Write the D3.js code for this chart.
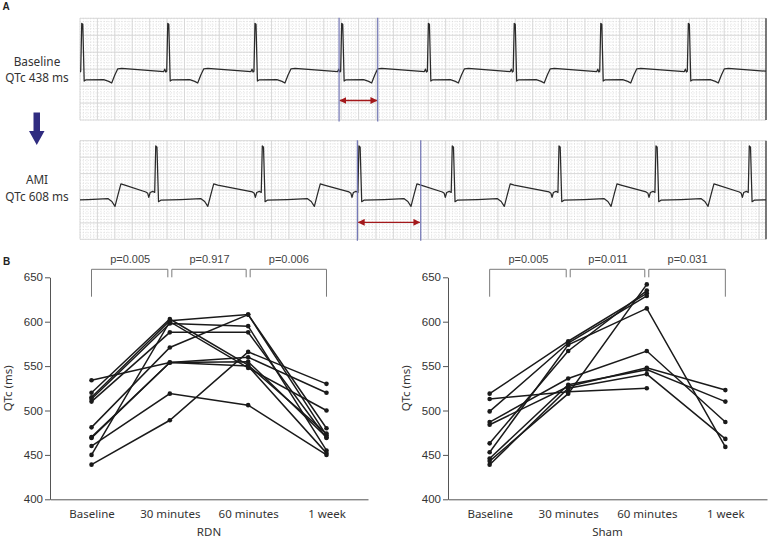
<!DOCTYPE html>
<html><head><meta charset="utf-8">
<script src="https://cdn.jsdelivr.net/npm/d3@7"></script>
<style>body{margin:0;background:#fff}svg{display:block}</style>
</head><body>
<svg id="c" width="768" height="539"></svg>
<script>
// ---------- Panel B data ----------
const categories = ["Baseline", "30 minutes", "60 minutes", "1 week"];
const yTicks = [400, 450, 500, 550, 600, 650];
const rdnSeries = [
  [534, 554, 560, 520],
  [520, 603, 551, 474],
  [515, 601, 608, 480],
  [513, 598, 595, 455],
  [510, 588, 588, 469],
  [481, 571, 608, 472],
  [470, 554, 555, 470],
  [469, 554, 550, 452],
  [460, 519, 506, 450],
  [450, 600, 548, 500],
  [439, 489, 566, 530]
];
const shamSeries = [
  [519, 578, 632, null],
  [513, 521, 525, null],
  [499, 576, 629, null],
  [487, 536, 567, 487],
  [484, 527, 548, 523],
  [463, 567, 635, null],
  [453, 574, 615, 459],
  [446, 529, 546, 510],
  [443, 519, 642, null],
  [439, 525, 541, 468]
];
const rdnPValues = ["p=0.005", "p=0.917", "p=0.006"];
const shamPValues = ["p=0.005", "p=0.011", "p=0.031"];

// ---------- Panel A data (ECG) ----------
const baselineRPeaksMs = [10, 504, 1005, 1503, 2001, 2494, 2991, 3494, 3990];
const amiRPeaksMs = [-98, 435, 1047, 1602, 2138, 2751, 3308, 3844];
// beat templates: [ms offset from R, mV]
const baselineBeat = [
  [-23, -0.14], [-17, 0.0], [-11, -0.17], [-6, -0.12], [0, 2.7], [6, 2.65], [14, -0.7],
  [23, -0.64], [126, -0.62], [155, -0.72], [172, -0.82], [190, -0.35], [207, 0.02], [230, 0.05]
];
const amiBeat = [
  [-57, -0.12], [-46, -0.2], [-40, -0.45], [-32, -0.15], [-17, -0.08], [-6, -0.15], [0, 2.68], [7, 2.6], [16, -0.71],
  [29, -0.62], [144, -0.58], [258, -0.52], [281, -0.7], [299, -1.0], [316, -0.3], [333, 0.37], [356, 0.3]
];
const baselineQT = [1488, 1710];
const amiQT = [1593, 1957];
const stripLabels = [["Baseline", "QTc 438 ms"], ["AMI", "QTc 608 ms"]];

const svg = d3.select("#c");
const sans = "'Noto Sans', sans-serif";
const arial = "'Liberation Sans', Arial, sans-serif";

// ---------- Panel A ----------
svg.append("text").attr("x", 2.5).attr("y", 10).text("A")
  .attr("font-family", arial).attr("font-weight", "bold").attr("font-size", 10).attr("fill", "#222");

const tx = d3.scaleLinear().domain([0, 3940]).range([80, 766]);
const strips = [
  {r: baselineRPeaksMs, beat: baselineBeat, qt: baselineQT, y: d3.scaleLinear().domain([-3, 3]).range([120, 18.3]), arrowY: -1.85, labels: stripLabels[0], ly: [66, 82]},
  {r: amiRPeaksMs, beat: amiBeat, qt: amiQT, y: d3.scaleLinear().domain([-3, 3]).range([239.3, 140.7]), arrowY: -1.97, labels: stripLabels[1], ly: [184, 200.5]}
];
const defs = svg.append("defs");
defs.append("marker").attr("id", "ah").attr("viewBox", "0 0 10 10").attr("refX", 9).attr("refY", 5)
  .attr("markerWidth", 5).attr("markerHeight", 5).attr("orient", "auto-start-reverse")
  .append("path").attr("d", "M0,0 L10,5 L0,10 z").attr("fill", "#a3181b");

strips.forEach((s, si) => {
  const y = s.y;
  const [x0, x1] = tx.range();
  const [yb, yt] = y.range();
  defs.append("clipPath").attr("id", "clip" + si).append("rect")
    .attr("x", x0).attr("y", yt - 1).attr("width", x1 - x0).attr("height", yb - yt + 2);
  const g = svg.append("g");
  // minor grid
  d3.range(0, 3941, 20).forEach(t => g.append("line").attr("x1", tx(t)).attr("x2", tx(t)).attr("y1", yt).attr("y2", yb)
    .attr("stroke", "#cfcfcf").attr("stroke-width", 0.6).attr("stroke-dasharray", "1,1.6"));
  d3.range(-3, 3.01, 0.2).forEach(v => g.append("line").attr("x1", x0).attr("x2", x1).attr("y1", y(v)).attr("y2", y(v))
    .attr("stroke", "#cfcfcf").attr("stroke-width", 0.6).attr("stroke-dasharray", "1,1.6"));
  // major grid
  d3.range(0, 3941, 100).forEach(t => g.append("line").attr("x1", tx(t)).attr("x2", tx(t)).attr("y1", yt).attr("y2", yb)
    .attr("stroke", "#d6d6d6").attr("stroke-width", 0.9));
  d3.range(-3, 3.01, 1).forEach(v => g.append("line").attr("x1", x0).attr("x2", x1).attr("y1", y(v)).attr("y2", y(v))
    .attr("stroke", "#d6d6d6").attr("stroke-width", 0.9));
  // right border
  g.append("line").attr("x1", x1).attr("x2", x1).attr("y1", yt).attr("y2", yb).attr("stroke", "#222").attr("stroke-width", 1.2);
  // trace
  const pts = [];
  s.r.forEach(r => s.beat.forEach(([dt, v]) => pts.push([r + dt, v])));
  pts.sort((a, b) => a[0] - b[0]);
  g.append("path").attr("clip-path", `url(#clip${si})`)
    .attr("d", d3.line().x(d => tx(d[0])).y(d => y(d[1]))(pts))
    .attr("fill", "none").attr("stroke", "#2a2a2a").attr("stroke-width", 1.25).attr("stroke-linejoin", "round");
  // QT markers
  s.qt.forEach(t => g.append("line").attr("x1", tx(t)).attr("x2", tx(t)).attr("y1", yt - 0.5).attr("y2", yb + 1.5)
    .attr("stroke", "#6f73b3").attr("stroke-width", 1.2));
  g.append("line").attr("x1", tx(s.qt[0]) + 1).attr("x2", tx(s.qt[1]) - 1).attr("y1", y(s.arrowY)).attr("y2", y(s.arrowY))
    .attr("stroke", "#a3181b").attr("stroke-width", 1.4)
    .attr("marker-start", "url(#ah)").attr("marker-end", "url(#ah)");
  // labels
  s.labels.forEach((t, i) => svg.append("text").attr("x", 37).attr("y", s.ly[i]).attr("text-anchor", "middle")
    .attr("font-family", sans).attr("font-size", 11.8).attr("fill", "#333").text(t));
});
// transition arrow
svg.append("path").attr("d", "M33.5,112.5 L40,112.5 L40,131 L44.5,131 L36.75,145 L29,131 L33.5,131 Z").attr("fill", "#302c80");

// ---------- Panel B ----------
svg.append("text").attr("x", 3).attr("y", 264.5).text("B")
  .attr("font-family", arial).attr("font-weight", "bold").attr("font-size", 10).attr("fill", "#222");

const y = d3.scaleLinear().domain([400, 650]).range([499.3, 277.3]);
const panels = [
  {series: rdnSeries, p: rdnPValues, range: [50, 368], title: "RDN", yLabelX: 8},
  {series: shamSeries, p: shamPValues, range: [448, 767], title: "Sham", yLabelX: 406}
];
panels.forEach(P => {
  const x = d3.scalePoint().domain(categories).range(P.range).padding(0.53);
  const g = svg.append("g");
  const ya = g.append("g").attr("transform", `translate(${P.range[0]},0)`)
    .call(d3.axisLeft(y).tickValues(yTicks).tickSize(5).tickSizeOuter(0).tickPadding(2));
  ya.selectAll("text").attr("font-family", arial).attr("font-size", 11.5).attr("fill", "#333");
  ya.selectAll("line,path").attr("stroke", "#555");
  const xa = g.append("g").attr("transform", `translate(0,${y(400)})`)
    .call(d3.axisBottom(x).tickSize(0).tickSizeOuter(0).tickPadding(10.5));
  xa.selectAll("text").attr("font-family", sans).attr("font-size", 11.5).attr("fill", "#333");
  xa.selectAll("path").attr("stroke", "#555");
  g.append("text").attr("x", (P.range[0] + P.range[1]) / 2).attr("y", 536).attr("text-anchor", "middle")
    .attr("font-family", sans).attr("font-size", 11.5).attr("fill", "#333").text(P.title);
  g.append("text").attr("transform", `translate(${P.yLabelX + 4},${(y(400) + y(650)) / 2}) rotate(-90)`)
    .attr("text-anchor", "middle").attr("font-family", sans).attr("font-size", 11.5).attr("fill", "#333").text("QTc (ms)");
  // lines
  const line = d3.line().defined(d => d.v != null).x(d => x(d.c)).y(d => y(d.v));
  P.series.forEach(s => {
    const d = s.map((v, i) => ({c: categories[i], v}));
    g.append("path").attr("d", line(d)).attr("fill", "none").attr("stroke", "#1a1a1a").attr("stroke-width", 1.5);
    d.filter(e => e.v != null).forEach(e => g.append("circle").attr("cx", x(e.c)).attr("cy", y(e.v)).attr("r", 2.3).attr("fill", "#1a1a1a"));
  });
  // brackets
  const topY = 269.3, outerY = 296.7, innerY = 277.3;
  P.p.forEach((lab, i) => {
    const xa0 = x(categories[i]) + (i === 0 ? 0 : 2);
    const xa1 = x(categories[i + 1]) - (i === 2 ? 0 : 2);
    const yl = i === 0 ? outerY : innerY;
    const yr = i === 2 ? outerY : innerY;
    g.append("path").attr("d", `M${xa0},${yl} L${xa0},${topY} L${xa1},${topY} L${xa1},${yr}`)
      .attr("fill", "none").attr("stroke", "#7a7a7a").attr("stroke-width", 1);
    g.append("text").attr("x", (xa0 + xa1) / 2 + 0.5).attr("y", 263).attr("text-anchor", "middle")
      .attr("font-family", arial).attr("font-size", 11).attr("fill", "#444").text(lab);
  });
});
</script>
</body></html>
